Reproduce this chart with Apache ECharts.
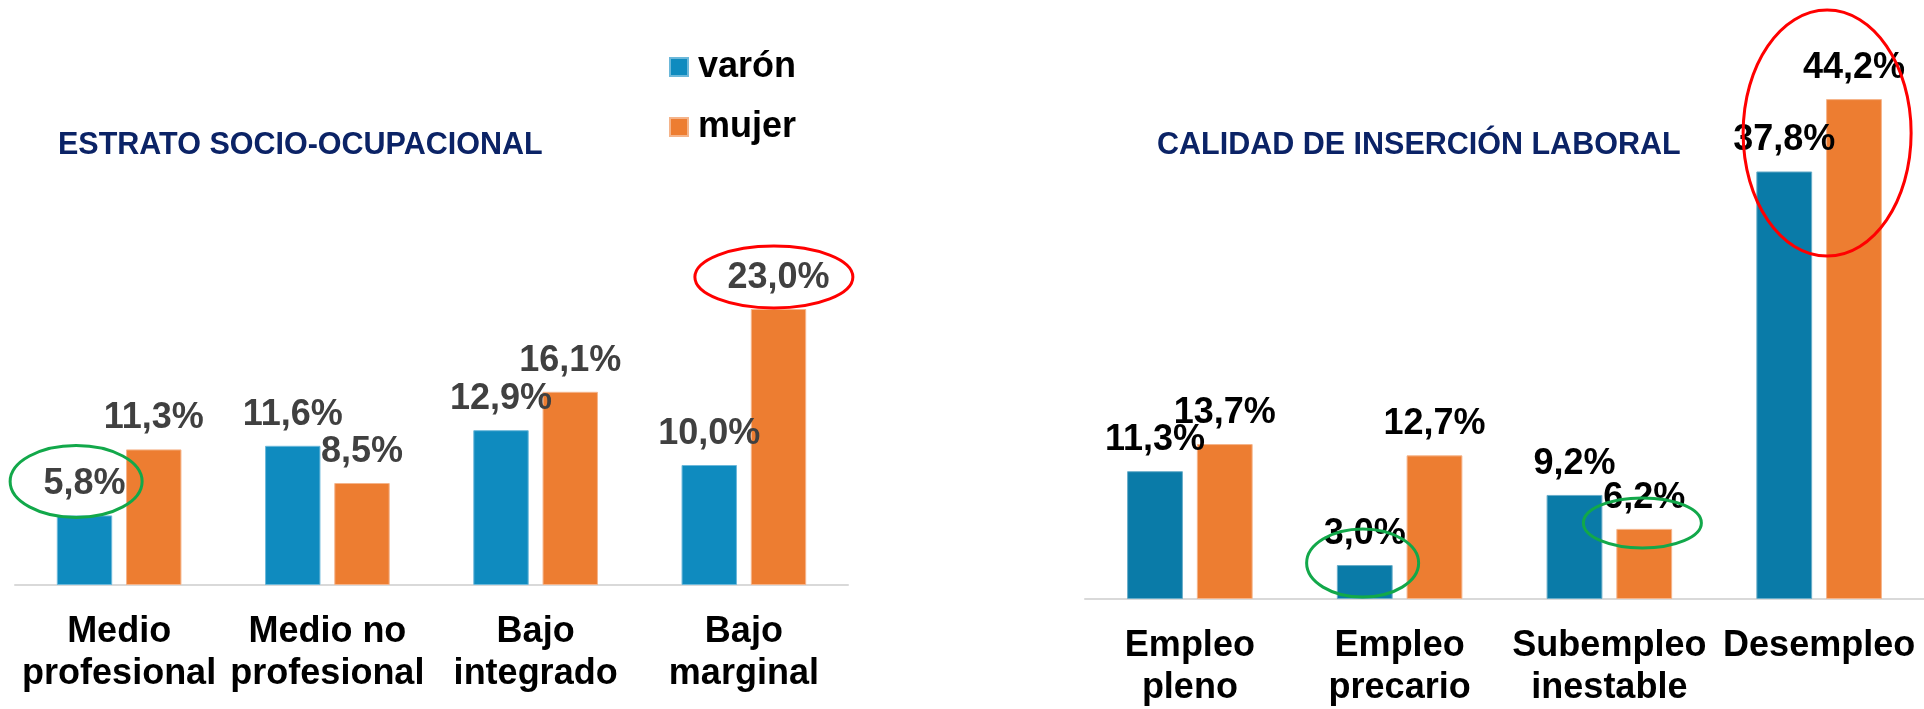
<!DOCTYPE html>
<html>
<head>
<meta charset="utf-8">
<script src="https://cdn.jsdelivr.net/npm/echarts@6/dist/echarts.min.js"></script>
<style>
html,body{margin:0;padding:0;background:#fff;}
#chart{width:1924px;height:709px;}
</style>
</head>
<body>
<div id="chart"></div>
<script>
// ---- data ----
var titleLeft = 'ESTRATO SOCIO-OCUPACIONAL';
var titleRight = 'CALIDAD DE INSERCIÓN LABORAL';
var seriesNames = ['varón', 'mujer'];
var catsLeft = ['Medio\nprofesional', 'Medio no\nprofesional', 'Bajo\nintegrado', 'Bajo\nmarginal'];
var varonLeft = [5.8, 11.6, 12.9, 10.0];
var mujerLeft = [11.3, 8.5, 16.1, 23.0];
var catsRight = ['Empleo\npleno', 'Empleo\nprecario', 'Subempleo\ninestable', 'Desempleo'];
var varonRight = [11.3, 3.0, 9.2, 37.8];
var mujerRight = [13.7, 12.7, 6.2, 44.2];
// annotation ellipses: grid, series (0 varón / 1 mujer), category index, colour
var marks = [
  {grid: 0, s: 0, c: 0, color: '#12a84a', dx: -43, dy: -34, rx: 66, ry: 36},
  {grid: 0, s: 1, c: 3, color: '#ff0000', dx: 30, dy: -32, rx: 79, ry: 31},
  {grid: 1, s: 1, c: 3, color: '#ff0000', dx: 8, dy: 34, rx: 84, ry: 123},
  {grid: 1, s: 0, c: 1, color: '#12a84a', dx: -37, dy: -2, rx: 56, ry: 34},
  {grid: 1, s: 1, c: 2, color: '#12a84a', dx: 33, dy: -6, rx: 59, ry: 25}
];

var FONT = 'Arial, "Liberation Sans", Helvetica, sans-serif';
function fmt(v){ return v.toFixed(1).replace('.', ',') + '%'; }

function barSeries(name, data, xi, color, border, labelColor, fs){
  return {
    name: name, type: 'bar', xAxisIndex: xi, yAxisIndex: xi, data: data,
    barWidth: '26.6%', barGap: '25%',
    itemStyle: {color: color, borderColor: border, borderWidth: 1},
    label: {show: true, position: 'top', distance: 13,
      formatter: function(p){ return fmt(p.value); },
      fontFamily: FONT, fontWeight: 'bold', fontSize: fs, color: labelColor},
    emphasis: {disabled: true}
  };
}

var axisLabel = {interval: 0, fontFamily: FONT, fontWeight: 'bold', fontSize: 36,
  lineHeight: 42, color: '#000', margin: 26};

var chart = echarts.init(document.getElementById('chart'), null, {renderer: 'canvas'});
var option = {
  animation: false,
  backgroundColor: '#fff',
  title: [
    {text: titleLeft, left: 58, top: 130, padding: 0,
      textStyle: {fontFamily: FONT, fontWeight: 'bold', fontSize: 30.5, color: '#0b2366'}},
    {text: titleRight, left: 1157, top: 130, padding: 0,
      textStyle: {fontFamily: FONT, fontWeight: 'bold', fontSize: 30.5, color: '#0b2366'}}
  ],
  legend: {
    data: seriesNames, orient: 'vertical', left: 669, top: 49, padding: 0,
    itemWidth: 18, itemHeight: 18, itemGap: 24, icon: 'rect',
    textStyle: {fontFamily: FONT, fontWeight: 'bold', fontSize: 36, color: '#000', padding: [0,0,0,5]},
    selectedMode: false
  },
  grid: [
    {left: 15, width: 833, top: 105, height: 480},
    {left: 1085, width: 840, top: 33.5, height: 570.5}
  ],
  xAxis: [
    {type: 'category', gridIndex: 0, data: catsLeft,
      axisLine: {lineStyle: {color: '#d9d9d9', width: 2}}, axisTick: {show: false}, axisLabel: axisLabel},
    {type: 'category', gridIndex: 1, data: catsRight,
      axisLine: {lineStyle: {color: '#d9d9d9', width: 2}}, axisTick: {show: false}, axisLabel: axisLabel}
  ],
  yAxis: [
    {type: 'value', gridIndex: 0, min: 0, max: 40, show: false, splitLine: {show: false}},
    {type: 'value', gridIndex: 1, min: 0, max: 50, show: false, splitLine: {show: false}}
  ],
  series: [
    barSeries(seriesNames[0], varonLeft, 0, '#0f8bbf', '#6cb8da', '#404040', 36),
    barSeries(seriesNames[1], mujerLeft, 0, '#ed7d31', '#f5b48a', '#404040', 36),
    barSeries(seriesNames[0], varonRight, 1, '#0a7ba8', '#68adc9', '#000', 36),
    barSeries(seriesNames[1], mujerRight, 1, '#ed7d31', '#f5b48a', '#000', 36)
  ]
};
chart.setOption(option);

var dataByGrid = [[varonLeft, mujerLeft], [varonRight, mujerRight]];
var graphics = marks.map(function(m){
  var cx = chart.convertToPixel({xAxisIndex: m.grid}, m.c);
  var y = chart.convertToPixel({yAxisIndex: m.grid}, dataByGrid[m.grid][m.s][m.c]);
  return {type: 'ellipse', silent: true, z: 100,
    shape: {cx: cx + m.dx, cy: y + m.dy, rx: m.rx, ry: m.ry},
    style: {fill: null, stroke: m.color, lineWidth: 3}};
});
chart.setOption({graphic: graphics});
</script>
</body>
</html>
